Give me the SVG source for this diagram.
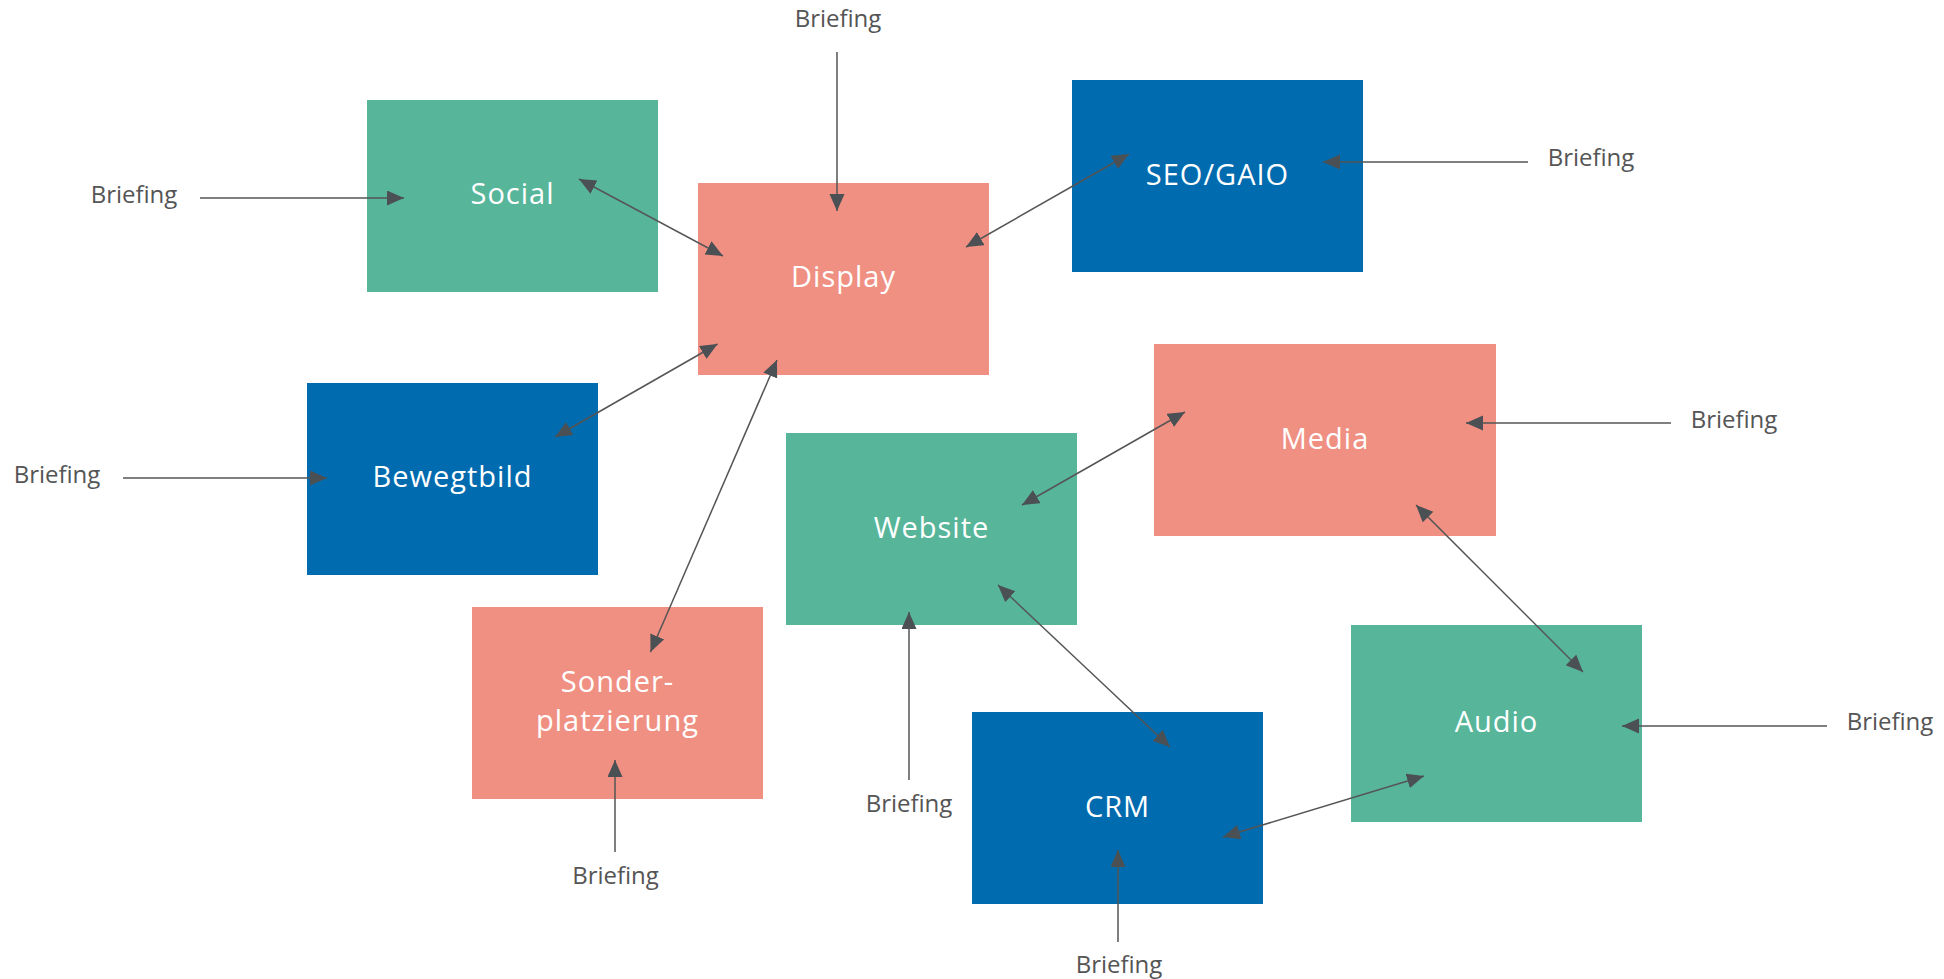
<svg xmlns="http://www.w3.org/2000/svg" width="1944" height="979" viewBox="0 0 1944 979">
<style>
.g{fill:#57B59A}.s{fill:#F09083}.b{fill:#006BAE}
.lbl{font-family:"Open Sans","Liberation Sans",sans-serif;font-size:29px;font-weight:500;fill:#fff;text-anchor:middle;letter-spacing:1px}
.br{font-family:"Open Sans","Liberation Sans",sans-serif;font-size:24px;fill:#555;text-anchor:middle}
.c{stroke:#555;stroke-width:1.5;fill:none}
.one{marker-end:url(#ah)}
.two{marker-start:url(#ah);marker-end:url(#ah)}
</style>
<defs>
<marker id="ah" markerUnits="userSpaceOnUse" markerWidth="18" markerHeight="16" refX="17" refY="7.5" orient="auto-start-reverse" viewBox="0 0 18 16">
<path d="M0,0 L17,7.5 L0,15 z" fill="#4B5054"/>
</marker>
</defs>
<rect width="1944" height="979" fill="#fff"/>
<g id="node-social"><rect class="g" x="367" y="100" width="291" height="192"/><text class="lbl" x="512.5" y="204">Social</text></g>
<g id="node-display"><rect class="s" x="698" y="183" width="291" height="192"/><text class="lbl" x="843.5" y="287">Display</text></g>
<g id="node-seo"><rect class="b" x="1072" y="80" width="291" height="192"/><text class="lbl" x="1217.5" y="185">SEO/GAIO</text></g>
<g id="node-bewegtbild"><rect class="b" x="307" y="383" width="291" height="192"/><text class="lbl" x="452.5" y="487">Bewegtbild</text></g>
<g id="node-media"><rect class="s" x="1154" y="344" width="342" height="192"/><text class="lbl" x="1325" y="449">Media</text></g>
<g id="node-website"><rect class="g" x="786" y="433" width="291" height="192"/><text class="lbl" x="931.5" y="538">Website</text></g>
<g id="node-sonder"><rect class="s" x="472" y="607" width="291" height="192"/><text class="lbl" x="617.5" y="692">Sonder-</text><text class="lbl" x="617.5" y="731">platzierung</text></g>
<g id="node-crm"><rect class="b" x="972" y="712" width="291" height="192"/><text class="lbl" x="1117.5" y="817">CRM</text></g>
<g id="node-audio"><rect class="g" x="1351" y="625" width="291" height="197"/><text class="lbl" x="1496.5" y="732">Audio</text></g>
<g id="briefings">
<text class="br" x="838" y="27">Briefing</text>
<text class="br" x="134" y="203">Briefing</text>
<text class="br" x="57" y="483">Briefing</text>
<text class="br" x="1591" y="166">Briefing</text>
<text class="br" x="1734" y="428">Briefing</text>
<text class="br" x="1890" y="730">Briefing</text>
<text class="br" x="909" y="812">Briefing</text>
<text class="br" x="615.5" y="884">Briefing</text>
<text class="br" x="1119" y="973">Briefing</text>
</g>
<g id="connectors">
<line class="c one" x1="837" y1="52" x2="837" y2="211"/>
<line class="c one" x1="200" y1="198" x2="404" y2="198"/>
<line class="c one" x1="123" y1="478" x2="327" y2="478"/>
<line class="c one" x1="1528" y1="162" x2="1323" y2="162"/>
<line class="c one" x1="1671" y1="423" x2="1466" y2="423"/>
<line class="c one" x1="1827" y1="726" x2="1622" y2="726"/>
<line class="c one" x1="909" y1="780" x2="909" y2="612"/>
<line class="c one" x1="615" y1="852" x2="615" y2="760"/>
<line class="c one" x1="1118" y1="942" x2="1118" y2="850"/>
<line class="c two" x1="579" y1="179" x2="723" y2="256"/>
<line class="c two" x1="966" y1="247" x2="1129" y2="154"/>
<line class="c two" x1="717.5" y1="344" x2="555" y2="437"/>
<line class="c two" x1="777" y1="360" x2="650.5" y2="652"/>
<line class="c two" x1="1022" y1="505" x2="1185" y2="412"/>
<line class="c two" x1="998" y1="585" x2="1170" y2="747"/>
<line class="c two" x1="1416" y1="505" x2="1583" y2="672"/>
<line class="c two" x1="1223" y1="837" x2="1424" y2="776"/>
</g>
</svg>
